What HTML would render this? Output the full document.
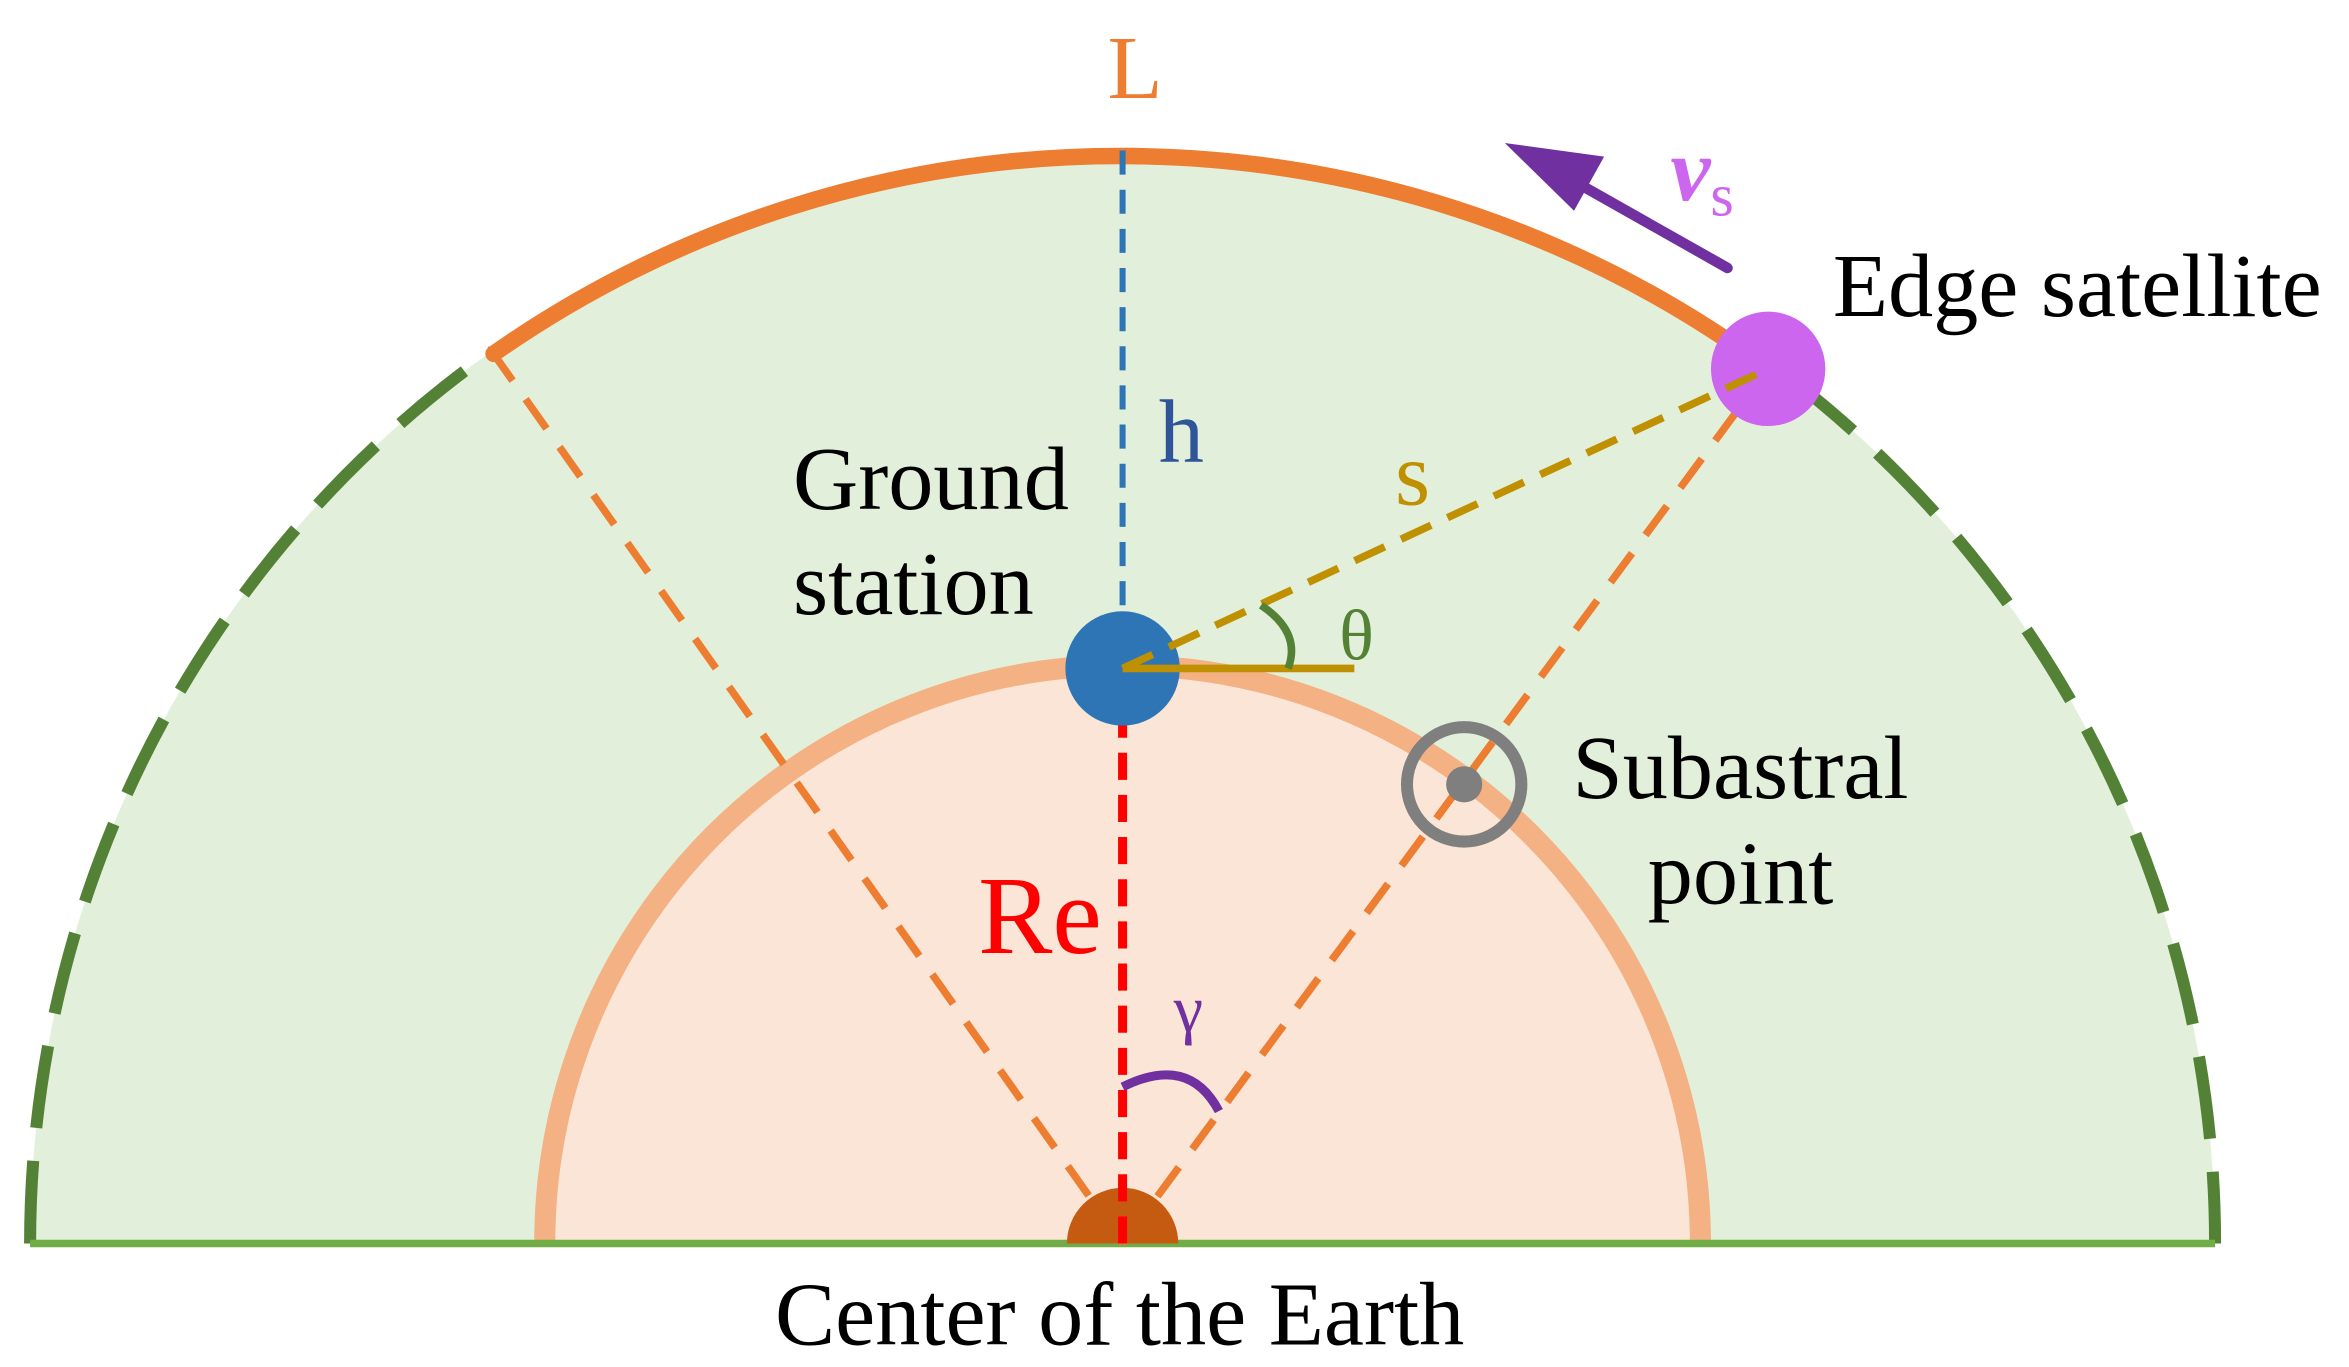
<!DOCTYPE html>
<html><head><style>html,body{margin:0;padding:0;background:#fff}svg{display:block}</style></head>
<body>
<svg width="2349" height="1367" viewBox="0 0 1561 908" preserveAspectRatio="none" xmlns="http://www.w3.org/2000/svg" font-family="Liberation Serif, serif">
<path d="M20,826 A726,726 0 0 1 1472,826 Z" fill="#e2efda"/>
<path d="M20,826 A726,726 0 0 1 1472,826" fill="none" stroke="#538135" stroke-width="8" stroke-dasharray="55,22"/>
<path d="M324,229.3 A733,733 0 0 1 1179.1,239.4" fill="none" stroke="#ffffff" stroke-width="8"/>
<path d="M362,826 A384,384 0 0 1 1130,826 Z" fill="#fbe5d6"/>
<path d="M362,826 A384,384 0 0 1 1130,826" fill="none" stroke="#f4b183" stroke-width="14"/>
<line x1="20" y1="826" x2="1472" y2="826" stroke="#70ad47" stroke-width="5"/>
<path d="M328,235 A726,726 0 0 1 1175,245" fill="none" stroke="#ed7d31" stroke-width="11" stroke-linecap="round"/>
<line x1="746" y1="826" x2="328" y2="235" stroke="#ed7d31" stroke-width="5" stroke-dasharray="24,15"/>
<line x1="746" y1="826" x2="1175" y2="245" stroke="#ed7d31" stroke-width="5" stroke-dasharray="24,15"/>
<path d="M709,826 A37,37 0 0 1 783,826 Z" fill="#c55a11"/>
<line x1="746" y1="100" x2="746" y2="444" stroke="#2e75b6" stroke-width="4" stroke-dasharray="16,10"/>
<line x1="746" y1="444" x2="746" y2="826" stroke="#ff0000" stroke-width="6" stroke-dasharray="18,10"/>
<circle cx="746" cy="444" r="38" fill="#2e75b6"/>
<circle cx="1175" cy="245" r="38" fill="#cc66ee"/>
<line x1="746" y1="444" x2="1175" y2="245" stroke="#bf9000" stroke-width="5" stroke-dasharray="22,12"/>
<line x1="746" y1="444" x2="900" y2="444" stroke="#bf9000" stroke-width="5"/>
<path d="M838,402 Q865,420 856,444" fill="none" stroke="#538135" stroke-width="5"/>
<circle cx="973" cy="521" r="38" fill="none" stroke="#7f7f7f" stroke-width="8"/>
<circle cx="973" cy="521" r="12" fill="#7f7f7f"/>
<line x1="1148" y1="178" x2="1040" y2="117" stroke="#7030a0" stroke-width="7" stroke-linecap="round"/>
<polygon points="1000,95 1066,104 1046,140" fill="#7030a0"/>
<path d="M746,722 Q790,700 810,738" fill="none" stroke="#7030a0" stroke-width="6"/>
<g font-size="60">
<text x="736" y="65" fill="#ed7d31">L</text>
<text x="770" y="307" fill="#2e5597">h</text>
<text x="527" y="338" fill="#000">Ground</text>
<text x="527" y="408" fill="#000">station</text>
<text x="927" y="335" fill="#bf9000">s</text>
<text x="890" y="438" fill="#538135" font-size="48">θ</text>
<text x="1218" y="210" fill="#000">Edge satellite</text>
<text x="1045" y="530" fill="#000">Subastral</text>
<text x="1095" y="600" fill="#000">point</text>
<text x="650" y="633" fill="#ff0000" font-size="74">Re</text>
<text x="780" y="685" fill="#7030a0" font-size="44">γ</text>
<text x="515" y="893" fill="#000">Center of the Earth</text>
<text x="1110" y="133" fill="#cc66ee" font-size="60" font-style="italic" font-weight="bold">v<tspan font-size="40" font-style="normal" font-weight="normal" dy="10">s</tspan></text>
</g>
</svg>
</body></html>
